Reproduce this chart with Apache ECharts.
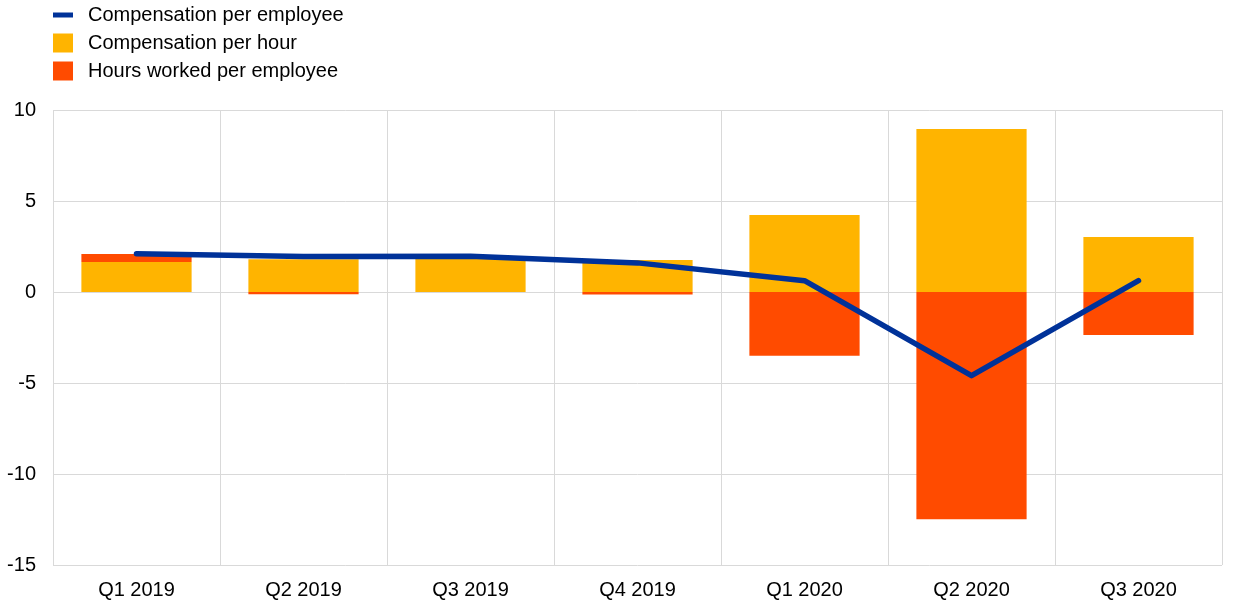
<!DOCTYPE html>
<html>
<head>
<meta charset="utf-8">
<script src="https://cdn.jsdelivr.net/npm/echarts@6/dist/echarts.min.js"></script>
<style>
html,body{margin:0;padding:0;background:#fff;}
#chart{width:1240px;height:611px;}
</style>
</head>
<body>
<div id="chart"></div>
<script>
const categories = ['Q1 2019','Q2 2019','Q3 2019','Q4 2019','Q1 2020','Q2 2020','Q3 2020'];
const compPerHour = [1.65, 1.8, 1.82, 1.76, 4.23, 8.96, 3.02];
const hoursPerEmployee = [0.44, -0.13, 0.0, -0.14, -3.5, -12.49, -2.36];
const compPerEmployee = [2.1, 1.95, 1.97, 1.6, 0.62, -4.6, 0.62];
const yTicks = [-15, -10, -5, 0, 5, 10];

const chart = echarts.init(document.getElementById('chart'));
const font = 'Liberation Sans, Arial, sans-serif';
chart.setOption({
  animation: false,
  textStyle: { fontFamily: font },
  legend: [
    {
      data: ['Compensation per employee'],
      left: 53, top: 5, padding: 0,
      icon: 'rect', itemWidth: 20, itemHeight: 5,
      textStyle: { fontSize: 20, color: '#000', fontFamily: font, padding: [0,0,0,10] },
      selectedMode: false
    },
    {
      data: ['Compensation per hour', 'Hours worked per employee'],
      orient: 'vertical',
      left: 53, top: 33, padding: 0,
      icon: 'rect', itemWidth: 20, itemHeight: 19, itemGap: 8,
      textStyle: { fontSize: 20, color: '#000', fontFamily: font, padding: [0,0,0,10] },
      selectedMode: false
    }
  ],
  grid: { left: 53, right: 18, top: 110, bottom: 46, containLabel: false },
  xAxis: {
    type: 'category',
    data: categories,
    boundaryGap: true,
    axisLine: { show: false },
    axisTick: { show: false },
    axisLabel: { fontSize: 20, color: '#000', margin: 15, fontFamily: font },
    splitLine: { show: true, interval: 0, lineStyle: { color: '#d9d9d9', width: 1 } }
  },
  yAxis: {
    type: 'value',
    min: -15, max: 10, interval: 5,
    axisLine: { show: false },
    axisTick: { show: false },
    axisLabel: { fontSize: 20, color: '#000', margin: 17, fontFamily: font,
      formatter: v => yTicks.includes(v) ? String(v) : '' },
    splitLine: { show: true, lineStyle: { color: '#d9d9d9', width: 1 } }
  },
  series: [
    {
      name: 'Compensation per hour',
      type: 'bar', stack: 'a', barWidth: '66%',
      itemStyle: { color: '#FFB400' },
      data: compPerHour
    },
    {
      name: 'Hours worked per employee',
      type: 'bar', stack: 'a', barWidth: '66%',
      itemStyle: { color: '#FF4B00' },
      data: hoursPerEmployee
    },
    {
      name: 'Compensation per employee',
      type: 'line',
      symbol: 'none',
      itemStyle: { color: '#003299' },
      lineStyle: { color: '#003299', width: 5.5, cap: 'round', join: 'round' },
      data: compPerEmployee,
      z: 5
    }
  ]
});
</script>
</body>
</html>
